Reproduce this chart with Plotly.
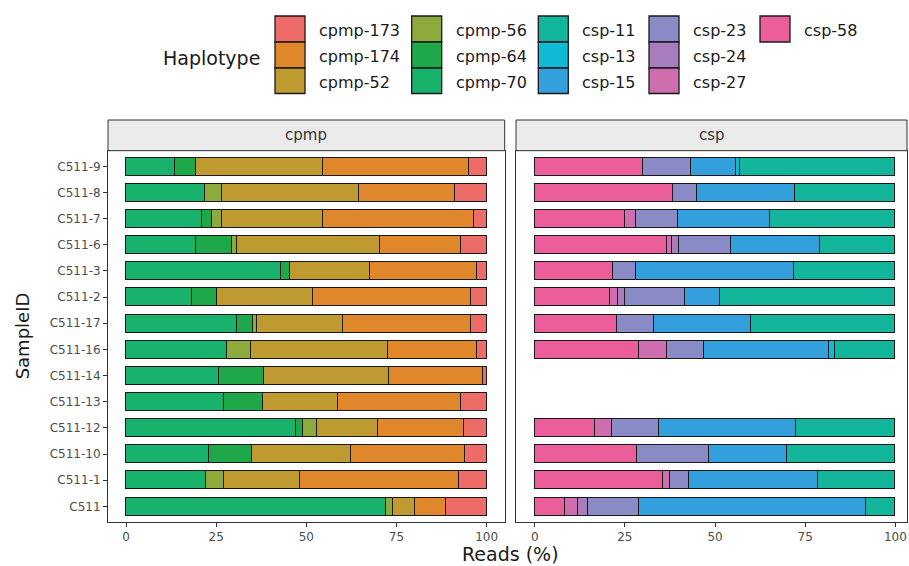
import plotly.graph_objects as go

W, H = 909, 566

samples = ["C511-9", "C511-8", "C511-7", "C511-6", "C511-3", "C511-2", "C511-17",
           "C511-16", "C511-14", "C511-13", "C511-12", "C511-10", "C511-1", "C511"]

# cpmp panel (left -> right stacking order: 70, 64, 56, 52, 174, 173)
cpmp_70 = [13.6, 21.8, 21.0, 19.5, 43.1, 18.2, 30.8, 28.1, 25.8, 27.3, 47.0, 23.0, 22.3, 72.0]
cpmp_64 = [5.9, None, 2.8, 9.8, 2.3, 7.1, 4.4, None, 12.5, 10.7, 2.0, 11.8, None, None]
cpmp_56 = [None, 4.7, 2.7, 1.5, None, None, 1.1, 6.6, None, None, 4.0, None, 4.9, 2.0]
cpmp_52 = [35.1, 38.0, 28.1, 39.7, 22.2, 26.5, 23.9, 38.0, 34.7, 20.9, 16.9, 27.6, 21.1, 6.2]
cpmp_174 = [40.6, 26.7, 41.8, 22.4, 29.7, 43.9, 35.5, 24.5, 26.1, 34.0, 23.7, 31.7, 43.9, 8.4]
cpmp_173 = [4.8, 8.8, 3.6, 7.1, 2.7, 4.3, 4.3, 2.8, 0.9, 7.1, 6.4, 5.9, 7.8, 11.4]

# csp panel (left -> right stacking order: 58, 27, 24, 23, 15, 13, 11)
csp_58 = [30.1, 38.4, 25.0, 36.8, 21.8, 20.9, 22.9, 28.8, None, None, 16.6, 28.5, 35.6, 8.3]
csp_27 = [None, None, 3.1, 1.4, None, 2.2, None, 7.9, None, None, 4.8, None, 2.0, 3.6]
csp_24 = [None, None, None, 1.7, None, 1.8, None, None, None, None, None, None, None, 2.8]
csp_23 = [13.3, 6.5, 11.7, 14.5, 6.3, 16.9, 10.3, 10.3, None, None, 13.0, 19.7, 5.1, 14.1]
csp_15 = [12.4, 27.4, 25.5, 24.6, 43.8, 9.5, 26.8, 34.7, None, None, 38.1, 21.8, 35.8, 63.2]
csp_13 = [1.2, None, None, None, None, None, None, 1.6, None, None, None, None, None, None]
csp_11 = [43.0, 27.7, 34.7, 21.0, 28.1, 48.7, 40.0, 16.7, None, None, 27.5, 30.0, 21.5, 8.0]

colors = {
    "cpmp-173": "#EE6C68", "cpmp-174": "#E0862B", "cpmp-52": "#BF9A30",
    "cpmp-56": "#8FAA3C", "cpmp-64": "#1FA84A", "cpmp-70": "#19B26C",
    "csp-11": "#13B59B", "csp-13": "#0EBAD6", "csp-15": "#339FDD",
    "csp-23": "#8A8BC6", "csp-24": "#A77DBE", "csp-27": "#CF6EAE", "csp-58": "#EB5E99",
}
legend_order = ["cpmp-173", "cpmp-174", "cpmp-52", "cpmp-56", "cpmp-64", "cpmp-70",
                "csp-11", "csp-13", "csp-15", "csp-23", "csp-24", "csp-27", "csp-58"]

x_ticks = [0, 25, 50, 75, 100]

left_series = [("cpmp-70", cpmp_70), ("cpmp-64", cpmp_64), ("cpmp-56", cpmp_56),
               ("cpmp-52", cpmp_52), ("cpmp-174", cpmp_174), ("cpmp-173", cpmp_173)]
right_series = [("csp-58", csp_58), ("csp-27", csp_27), ("csp-24", csp_24),
                ("csp-23", csp_23), ("csp-15", csp_15), ("csp-13", csp_13), ("csp-11", csp_11)]

FONT = "DejaVu Sans, Arial, sans-serif"
fig = go.Figure()
for name, vals in left_series:
    fig.add_trace(go.Bar(x=vals, y=samples, orientation="h", name=name, width=0.69,
                         marker=dict(color=colors[name], line=dict(color="#1a1a1a", width=1)),
                         xaxis="x", yaxis="y", showlegend=False))
for name, vals in right_series:
    fig.add_trace(go.Bar(x=vals, y=samples, orientation="h", name=name, width=0.69,
                         marker=dict(color=colors[name], line=dict(color="#1a1a1a", width=1)),
                         xaxis="x2", yaxis="y2", showlegend=False))


def px_x(p):
    return p / W


def px_y(p):
    return (H - p) / H


panel_top, panel_bot = 150.7, 522.0
strip_top = 120.0
lx0, lx1 = 108.0, 504.7
rx0, rx1 = 516.0, 907.0
scale = (lx1 - lx0) / 110.0  # pixels per unit

axis_common = dict(showline=True, linecolor="#333333", linewidth=1, mirror=True,
                   showgrid=False, zeroline=False, ticks="outside", ticklen=4,
                   tickcolor="#333333", tickfont=dict(family=FONT, size=12, color="#4D4D4D"))

shapes = []
annotations = []
for (x0, x1) in [(lx0, lx1), (rx0, rx1)]:
    shapes.append(dict(type="rect", xref="paper", yref="paper",
                       x0=px_x(x0), x1=px_x(x1), y0=px_y(panel_top), y1=px_y(strip_top),
                       fillcolor="#EBEBEB", line=dict(color="#333333", width=1)))
for (xc, label) in [((lx0 + lx1) / 2, "cpmp"), (712.0, "csp")]:
    annotations.append(dict(text=label, xref="paper", yref="paper",
                            x=px_x(xc), y=px_y((panel_top + strip_top) / 2),
                            showarrow=False, xanchor="center", yanchor="middle",
                            font=dict(family=FONT, size=15, color="#333333")))

# legend (manual, ggplot style: 3 rows, column-major)
col_box_x = [275.0, 411.7, 538.3, 649.0, 760.0]
row_y = [16.0, 42.0, 68.0, 93.5]
box_w = 30.0
for i, name in enumerate(legend_order):
    c, r = divmod(i, 3)
    bx = col_box_x[c]
    shapes.append(dict(type="rect", xref="paper", yref="paper",
                       x0=px_x(bx), x1=px_x(bx + box_w), y0=px_y(row_y[r + 1]), y1=px_y(row_y[r]),
                       fillcolor=colors[name], line=dict(color="#1a1a1a", width=1.3)))
    annotations.append(dict(text=name, xref="paper", yref="paper",
                            x=px_x(bx + box_w + 12), y=px_y((row_y[r] + row_y[r + 1]) / 2 + 1.5),
                            showarrow=False, xanchor="left", yanchor="middle",
                            font=dict(family=FONT, size=16, color="#1a1a1a")))
annotations.append(dict(text="Haplotype", xref="paper", yref="paper",
                        x=px_x(161), y=px_y(58), showarrow=False, xanchor="left",
                        yanchor="middle", font=dict(family=FONT, size=19, color="#1a1a1a")))
annotations.append(dict(text="Reads (%)", xref="paper", yref="paper",
                        x=px_x(510), y=px_y(554), showarrow=False, xanchor="center",
                        yanchor="middle", font=dict(family=FONT, size=19, color="#1a1a1a")))
annotations.append(dict(text="SampleID", xref="paper", yref="paper",
                        x=px_x(22), y=px_y((panel_top + panel_bot) / 2), showarrow=False,
                        xanchor="center", yanchor="middle", textangle=-90,
                        font=dict(family=FONT, size=18, color="#1a1a1a")))

# right panel x-range: 0 at 534.7 px
r_left = -(534.7 - rx0) / scale
r_right = r_left + (rx1 - rx0) / scale

fig.update_layout(
    width=W, height=H, barmode="stack", bargap=0,
    margin=dict(l=0, r=0, t=0, b=0),
    plot_bgcolor="white", paper_bgcolor="white",
    xaxis=dict(domain=[px_x(lx0), px_x(lx1)], range=[-5, 105], tickvals=x_ticks,
               anchor="y", **axis_common),
    xaxis2=dict(domain=[px_x(rx0), px_x(rx1)], range=[r_left, r_right],
                tickvals=x_ticks, anchor="y2", **axis_common),
    yaxis=dict(domain=[px_y(panel_bot), px_y(panel_top)], type="category",
               categoryorder="array", categoryarray=samples, range=[13.6, -0.6],
               anchor="x", **axis_common),
    yaxis2=dict(domain=[px_y(panel_bot), px_y(panel_top)], type="category",
                categoryorder="array", categoryarray=samples, range=[13.6, -0.6],
                anchor="x2", showticklabels=False,
                **{k: v for k, v in axis_common.items() if k not in ("ticks",)}, ticks=""),
    shapes=shapes, annotations=annotations,
    font=dict(family=FONT),
)

fig.write_html("out.html", config={"displayModeBar": False},
               post_script="document.body.style.margin='0';document.body.style.overflow='hidden';")
